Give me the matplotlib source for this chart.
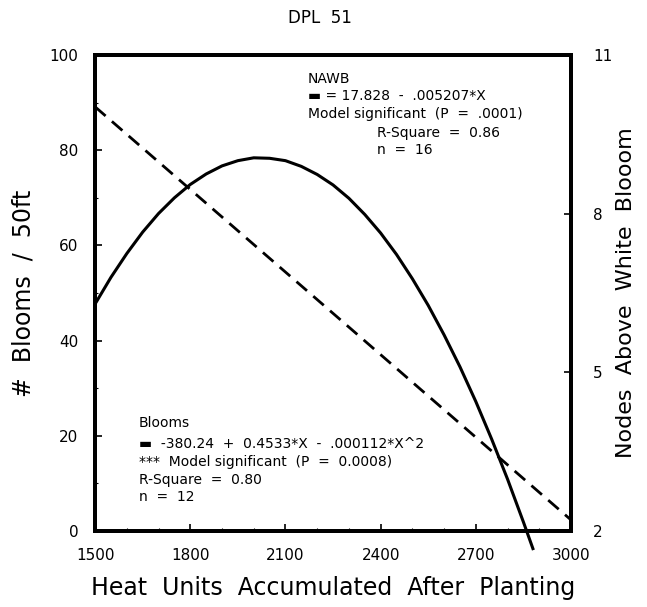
import numpy as np
import matplotlib
matplotlib.use("Agg")
import matplotlib.pyplot as plt
from matplotlib.ticker import MultipleLocator

# Blooms / 50ft, fitted quadratic
heat_blooms = [1500, 1550, 1600, 1650, 1700, 1750, 1800, 1850, 1900, 1950,
               2000, 2050, 2100, 2150, 2200, 2250, 2300, 2350, 2400, 2450,
               2500, 2550, 2600, 2650, 2700, 2750, 2800, 2850, 2880]
blooms = [47.7, 53.3, 58.3, 62.8, 66.7, 70.0, 72.8, 75.0, 76.7, 77.8,
          78.4, 78.3, 77.8, 76.6, 74.9, 72.7, 69.9, 66.5, 62.6, 58.1,
          53.0, 47.4, 41.2, 34.5, 27.2, 19.3, 10.9, 1.9, -3.7]

# Nodes above white bloom, linear fit
heat_nawb = [1500, 3000]
nawb = [10.02, 2.21]

x_ticks = [1500, 1800, 2100, 2400, 2700, 3000]
left_ticks = [0, 20, 40, 60, 80, 100]
right_ticks = [2, 5, 8, 11]

plt.rcParams['font.family'] = ['DejaVu Sans']

fig = plt.figure(figsize=(6.47, 6.07), dpi=100)
ax = fig.add_subplot(111)
fig.subplots_adjust(left=0.147, right=0.8825, top=0.9094, bottom=0.1252)
ax2 = ax.twinx()

ax.plot(heat_blooms, blooms, color='black', lw=2.2, clip_on=False, zorder=3)
ax2.plot(heat_nawb, nawb, color='black', lw=2.0, dashes=(5, 3), zorder=3)

ax.set_xlim(1500, 3000)
ax.set_ylim(0, 100)
ax2.set_ylim(2, 11)
ax.set_xticks(x_ticks)
ax.set_yticks(left_ticks)
ax2.set_yticks(right_ticks)
ax.xaxis.set_minor_locator(MultipleLocator(100))
ax.yaxis.set_minor_locator(MultipleLocator(10))

for a in (ax, ax2):
    for s in a.spines.values():
        s.set_linewidth(2.8)
ax.tick_params(axis='both', which='major', direction='in', length=5, width=1.2,
               labelsize=11, pad=12)
ax.tick_params(axis='both', which='minor', direction='in', length=2.5, width=0.8)
ax2.tick_params(axis='y', direction='in', length=5, width=1.2, labelsize=11, pad=16)

ax.set_xlabel("Heat  Units  Accumulated  After  Planting", fontsize=17)
ax.set_ylabel("#  Blooms  /  50ft", fontsize=17)
ax2.set_ylabel("Nodes  Above  White  Blooom", fontsize=16)
ax.xaxis.set_label_coords(0.5, -0.095)
ax.yaxis.set_label_coords(-0.125, 0.5)
ax2.yaxis.set_label_coords(1.095, 0.5)

fig.text(0.495, 0.970, "DPL  51", ha='center', va='center', fontsize=12)

fs = 10
ax.text(0.447, 0.950, "NAWB", transform=ax.transAxes, va='center', fontsize=fs)
ax.text(0.447, 0.914, "▬ = 17.828  -  .005207*X", transform=ax.transAxes, va='center', fontsize=fs)
ax.text(0.447, 0.876, "Model significant  (P  =  .0001)", transform=ax.transAxes, va='center', fontsize=fs)
ax.text(0.592, 0.836, "R-Square  =  0.86", transform=ax.transAxes, va='center', fontsize=fs)
ax.text(0.592, 0.800, "n  =  16", transform=ax.transAxes, va='center', fontsize=fs)

ax.text(0.092, 0.227, "Blooms", transform=ax.transAxes, va='center', fontsize=fs)
ax.text(0.092, 0.183, "▬  -380.24  +  0.4533*X  -  .000112*X^2", transform=ax.transAxes, va='center', fontsize=fs)
ax.text(0.092, 0.145, "***  Model significant  (P  =  0.0008)", transform=ax.transAxes, va='center', fontsize=fs)
ax.text(0.092, 0.107, "R-Square  =  0.80", transform=ax.transAxes, va='center', fontsize=fs)
ax.text(0.092, 0.071, "n  =  12", transform=ax.transAxes, va='center', fontsize=fs)

fig.savefig("out.png", dpi=100)
